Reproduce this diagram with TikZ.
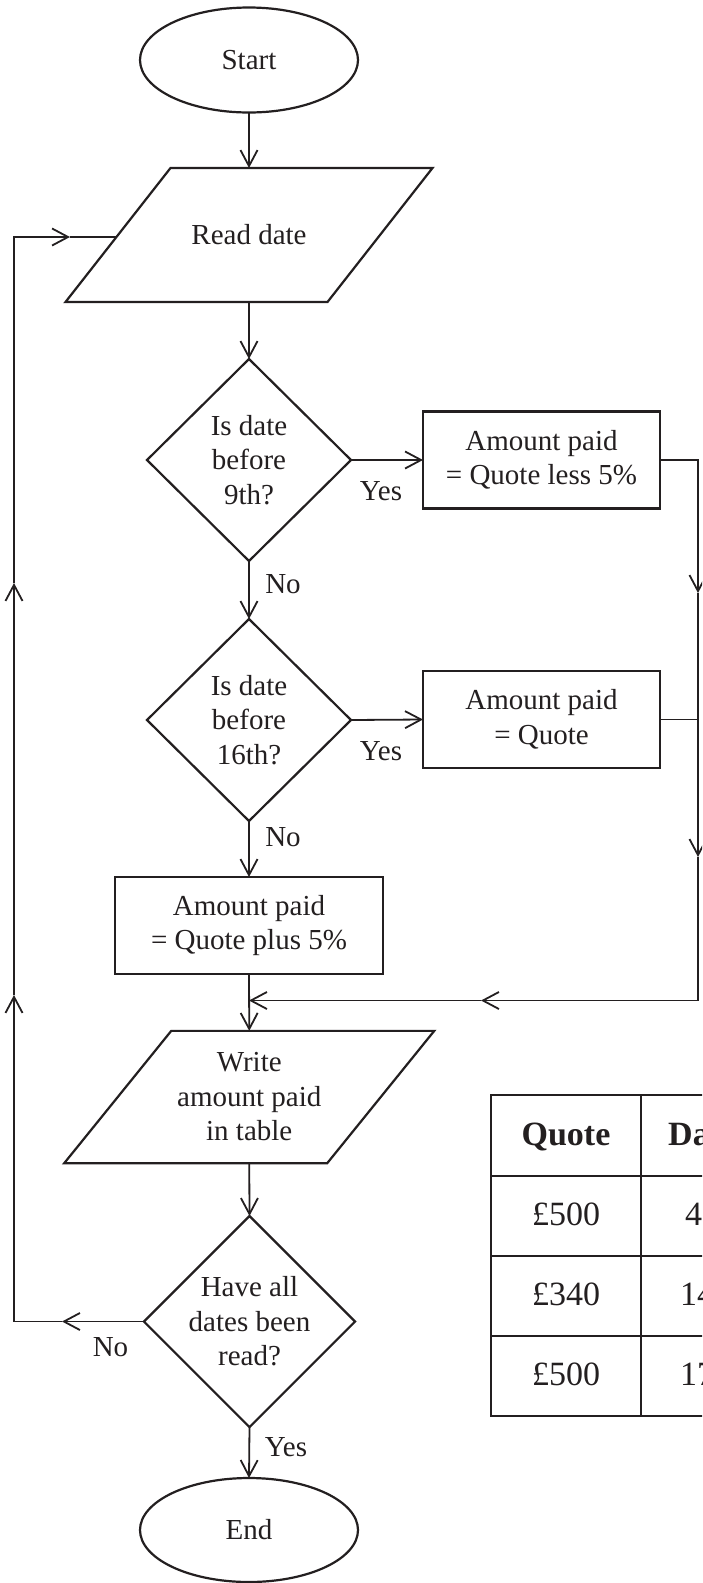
\documentclass[tikz,border=0pt]{standalone}
\usepackage{fontspec}
\setmainfont{Liberation Serif}
\usetikzlibrary{shapes.geometric,arrows.meta,calc}
\definecolor{ink}{HTML}{231F20}
\begin{document}
\begin{tikzpicture}[x=1pt,y=-1pt,
  >={Straight Barb[length=16pt,width=17pt]},
  txt/.style={font=\fontsize{29}{34.5}\selectfont, text=ink, align=center},
  shp/.style={txt, draw=ink, line width=2.2pt, inner sep=0pt, outer sep=0pt},
  frame/.style={txt, inner sep=0pt, outer sep=0pt},
  outline/.style={draw=ink, line width=2.2pt, line join=miter},
  conn/.style={draw=ink, line width=1.8pt},
  lbl/.style={txt, inner sep=0pt},
  tbl/.style={draw=ink, line width=2.2pt},
  ttxt/.style={font=\fontsize{34}{40}\selectfont, text=ink, inner sep=0pt},
  ]
\useasboundingbox (0,0) rectangle (702,1583);
\fill[white] (0,0) rectangle (702,1583);
\clip (0,0) rectangle (702,1583);

% ---- nodes ----
\node[shp, ellipse, minimum width=218pt, minimum height=105pt] (start) at (249,60) {Start};

\node[frame, minimum width=262pt, minimum height=134pt] (rd) at (249,235) {Read date};
\coordinate (rdTL) at ([xshift=52.5pt]rd.north west);
\coordinate (rdTR) at ([xshift=52.5pt]rd.north east);
\coordinate (rdBR) at ([xshift=-52.5pt]rd.south east);
\coordinate (rdBL) at ([xshift=-52.5pt]rd.south west);
\draw[outline] (rdTL) -- (rdTR) -- (rdBR) -- (rdBL) -- cycle;

\node[shp, diamond, minimum width=204pt, minimum height=202pt] (d1) at (249,460) {Is date\\before\\9th?};
\node[shp, rectangle, minimum width=237pt, minimum height=97pt] (b1) at (541.5,460) {Amount paid\\= Quote less 5\%};

\node[shp, diamond, minimum width=204pt, minimum height=202pt] (d2) at (249,720) {Is date\\before\\16th?};
\node[shp, rectangle, minimum width=237pt, minimum height=97pt] (b2) at (541.5,719.5) {Amount paid\\= Quote};

\node[shp, rectangle, minimum width=268pt, minimum height=97pt] (b3) at (249,925.5) {Amount paid\\= Quote plus 5\%};

\node[frame, minimum width=263pt, minimum height=132.3pt] (wr) at (249.25,1097) {Write\\amount paid\\in table};
\coordinate (wrTL) at ([xshift=53.5pt]wr.north west);
\coordinate (wrTR) at ([xshift=53.5pt]wr.north east);
\coordinate (wrBR) at ([xshift=-53.5pt]wr.south east);
\coordinate (wrBL) at ([xshift=-53.5pt]wr.south west);
\draw[outline] (wrTL) -- (wrTR) -- (wrBR) -- (wrBL) -- cycle;

\node[shp, diamond, minimum width=203pt, minimum height=203pt] (d3) at (249.5,1321.5) {Have all\\dates been\\read?};

\node[shp, ellipse, minimum width=218pt, minimum height=104pt] (stop) at (249,1530) {End};

% ---- labels ----
\node[lbl] (y1) at (381,491.5) {Yes};
\node[lbl] (n1) at (283,584) {No};
\node[lbl] (y2) at (381,751) {Yes};
\node[lbl] (n2) at (283,837) {No};
\node[lbl] (n3) at (110.5,1347) {No};
\node[lbl] (y3) at (286,1447) {Yes};

% ---- helper coordinates ----
\coordinate (lin) at ($(rdBL)!0.485!(rdTL)$);
\coordinate (Lt) at (14,237);
\coordinate (Lb) at (14,1321.5);
\coordinate (m1) at (62,1321.5);
\coordinate (m2) at (14,995);
\coordinate (m3) at (14,583);
\coordinate (m4) at (70,237);
\coordinate (R1) at (698,460);
\coordinate (R2) at (698,719.5);
\coordinate (R3) at (698,1000.5);
\coordinate (m5) at (698,593);
\coordinate (m6) at (698,857);
\coordinate (m7) at (481,1000.5);
\coordinate (J) at (249,1000.5);

% ---- main flow ----
\draw[conn,->] (start) -- (rd.north);
\draw[conn,->] (rd.south) -- (d1.north);
\draw[conn,->] (d1.east) -- (b1.west);
\draw[conn,->] (d1.south) -- (d2.north);
\draw[conn,->] (d2.east) -- (b2.west);
\draw[conn,->] (d2.south) -- (b3.north);
\draw[conn,->] (b3.south) -- (wr.north);
\draw[conn,->] (wr.south) -- (d3.north);
\draw[conn,->] (d3.south) -- (stop.north);

% ---- loop back ----
\draw[conn,->] (d3.west) -- (m1);
\draw[conn,->] (m1) -- (Lb) -- (m2);
\draw[conn,->] (m2) -- (m3);
\draw[conn,->] (m3) -- (Lt) -- (m4);
\draw[conn] (m4) -- (lin);

% ---- right side merge ----
\draw[conn,->] (b1.east) -- (R1) -- (m5);
\draw[conn,->] (m5) -- (m6);
\draw[conn] (b2.east) -- (R2);
\draw[conn,->] (m6) -- (R3) -- (m7);
\draw[conn,->] (m7) -- (J);

% ---- table ----
\draw[tbl] (491,1095) rectangle (760,1416);
\draw[tbl] (641,1095) -- (641,1416);
\draw[tbl] (491,1176) -- (760,1176);
\draw[tbl] (491,1256) -- (760,1256);
\draw[tbl] (491,1336) -- (760,1336);
\node[ttxt, anchor=base] (th1) at (566,1145) {\bfseries Quote};
\node[ttxt, anchor=base west] (th2) at (668,1145) {\bfseries Da};
\node[ttxt, anchor=base] (c11) at (566,1225) {£500};
\node[ttxt, anchor=base west] (c12) at (685,1225) {4};
\node[ttxt, anchor=base] (c21) at (566,1305) {£340};
\node[ttxt, anchor=base west] (c22) at (680,1305) {14};
\node[ttxt, anchor=base] (c31) at (566,1385) {£500};
\node[ttxt, anchor=base west] (c32) at (680,1385) {17};
\end{tikzpicture}
\end{document}
